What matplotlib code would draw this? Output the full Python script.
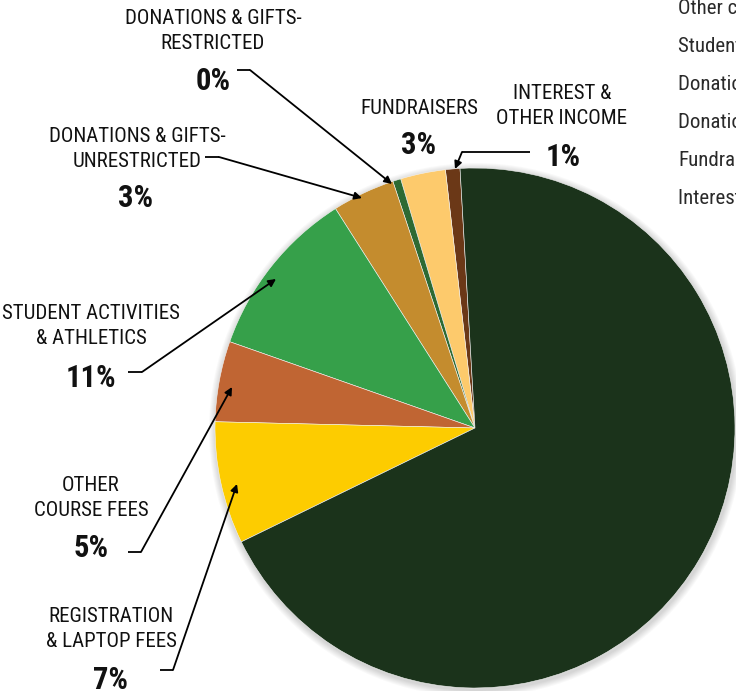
import matplotlib.pyplot as plt
import matplotlib.patches as mpatches

# slice values (percent), counter-clockwise from the top
categories = ["Interest & other income", "Fundraisers", "Donations & gifts-restricted",
              "Donations & gifts-unrestricted", "Student activities & athletics",
              "Other course fees", "Registration & laptop fees", "Tuition"]
values = [0.9, 2.8, 0.5, 3.9, 10.6, 5.0, 7.6, 68.7]
pct_labels = ["1%", "3%", "0%", "3%", "11%", "5%", "7%", ""]
colors = ["#6b3817", "#fdca6c", "#2d6a33", "#c48c2e", "#36a04a",
          "#c06533", "#fdcc00", "#1b331b"]

legend_names = ["Other course fees", "Student activities & athletics",
                "Donations & gifts-unrestricted", "Donations & gifts-restricted",
                "Fundraisers", "Interest & other income"]

FONT = ["Roboto Condensed", "DejaVu Sans"]
plt.rcParams["font.family"] = FONT

W, H = 736, 691
fig = plt.figure(figsize=(W / 100, H / 100), dpi=100)
ax = fig.add_axes([0, 0, 1, 1])

cx, cy, r = 475, H - 428, 260

# soft shadow behind the pie
for k in range(1, 8):
    ax.add_patch(mpatches.Circle((cx + 1, cy - 2), r + k, color="#000000",
                                 alpha=0.025, lw=0, zorder=0))

ax.pie(values, colors=colors, startangle=93.3, counterclock=True,
       center=(cx, cy), radius=r, frame=True,
       wedgeprops=dict(edgecolor="#f4f4f4", linewidth=0.4))
ax.set_xlim(0, W)
ax.set_ylim(0, H)
ax.set_aspect("equal")
ax.axis("off")


def y(v):
    return H - v


def label(x0, yc, text, fs=15):
    ax.text(x0, y(yc), text, ha="center", va="center", fontsize=fs,
            color="#111111", linespacing=1.35)


def pct(x0, yc, s):
    ax.text(x0, y(yc), s, ha="center", va="center", fontsize=22,
            fontweight="bold", color="#111111")


def leader(p0, p1, tip):
    ax.plot([p0[0], p1[0]], [y(p0[1]), y(p1[1])], color="black", lw=1.3,
            solid_capstyle="butt")
    ax.annotate("", xy=(tip[0], y(tip[1])), xytext=(p1[0], y(p1[1])),
                arrowprops=dict(arrowstyle="-|>", color="black", lw=1.3,
                                mutation_scale=11, shrinkA=0, shrinkB=0))


# labels
label(213, 31, "DONATIONS & GIFTS-\nRESTRICTED")
pct(213, 81, pct_labels[2])
leader((237, 70), (250, 70), (392, 184))

label(137, 149, "DONATIONS & GIFTS-\nUNRESTRICTED")
pct(136, 198, pct_labels[3])
leader((205, 157), (219, 157), (362, 198))

label(419, 108, "FUNDRAISERS")
pct(419, 145, pct_labels[1])

label(562, 106, "INTEREST &\nOTHER INCOME")
pct(563, 157, pct_labels[0])
leader((530, 152), (462, 152), (455, 169))

label(91, 326, "STUDENT ACTIVITIES\n& ATHLETICS")
pct(91, 378, pct_labels[4])
leader((128, 372), (142, 372), (276, 279))

label(91, 498, "OTHER\nCOURSE FEES")
pct(91, 548, pct_labels[5])
leader((128, 552), (141, 552), (232, 387))

label(111, 629, "REGISTRATION\n& LAPTOP FEES")
pct(111, 680, pct_labels[6])
leader((160, 670), (173, 670), (237, 484))

# legend column, cut off at the right edge
for i, name in enumerate(legend_names):
    ax.text(678, y(8 + 38 * i), name, ha="left", va="center", fontsize=15,
            color="#2a2a2a")

fig.savefig("out.png", dpi=100)
